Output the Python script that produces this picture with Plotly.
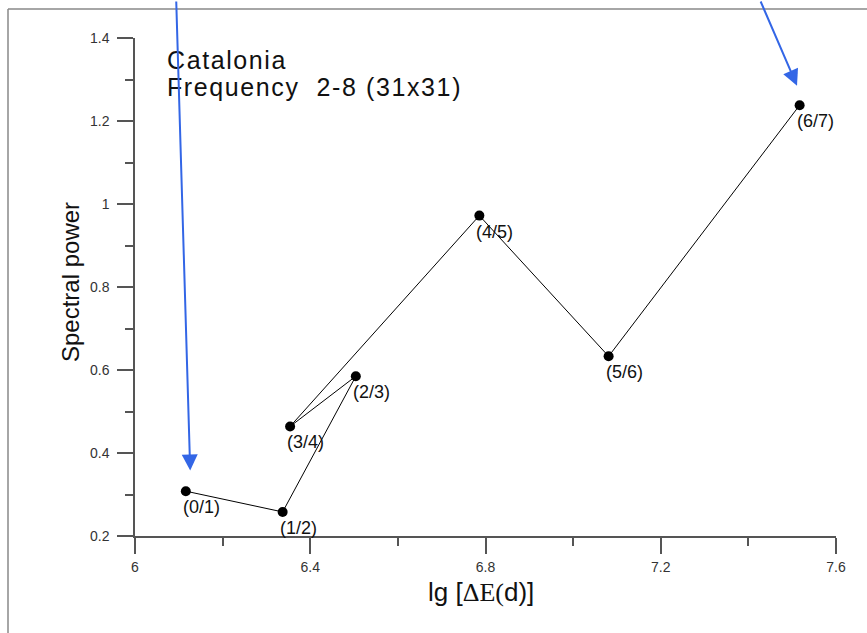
import plotly.graph_objects as go

# Spectral power versus lg[ΔE(d)] for successive magnitude bins
lg_de = [6.116, 6.337, 6.504, 6.354, 6.786, 7.081, 7.517]
power = [0.308, 0.258, 0.585, 0.464, 0.972, 0.633, 1.238]
labels = ["(0/1)", "(1/2)", "(2/3)", "(3/4)", "(4/5)", "(5/6)", "(6/7)"]

x_ticks = [6, 6.4, 6.8, 7.2, 7.6]
y_ticks = [0.2, 0.4, 0.6, 0.8, 1, 1.2, 1.4]

title_lines = ["Catalonia", "Frequency  2-8 (31x31)"]

W, H = 867, 633
ML, MR, MT, MB = 135, 31, 38, 97
pw, ph = W - ML - MR, H - MT - MB
SANS = "Liberation Sans, Arial"


def px_x(p):
    return (p - ML) / pw


def px_y(p):
    return (H - MB - p) / ph


fig = go.Figure()
fig.add_trace(go.Scatter(
    x=lg_de, y=power, mode="lines+markers",
    line=dict(color="black", width=1),
    marker=dict(color="black", size=10),
    hoverinfo="skip", showlegend=False,
))

annotations = []
for xv, yv, lab in zip(lg_de, power, labels):
    annotations.append(dict(
        x=xv, y=yv, text=lab, showarrow=False,
        xanchor="left", yanchor="top", xshift=-5, yshift=-4,
        font=dict(family=SANS, size=18, color="#111"),
    ))

for line, top in zip(title_lines, [44, 71]):
    annotations.append(dict(
        xref="paper", yref="paper", x=px_x(165), y=px_y(top),
        text='<span style="letter-spacing:1.6px">%s</span>' % line,
        showarrow=False, xanchor="left", yanchor="top", align="left",
        font=dict(family=SANS, size=25, color="#111"),
    ))

# blue pointer arrows
annotations.append(dict(
    x=6.126, y=0.358, ax=-14, ay=-480, showarrow=True,
    arrowhead=2, arrowsize=1.6, arrowwidth=2, arrowcolor="#3366e6", text="",
))
annotations.append(dict(
    x=7.511, y=1.285, ax=-37, ay=-92, showarrow=True,
    arrowhead=2, arrowsize=1.6, arrowwidth=2, arrowcolor="#3366e6", text="",
))

annotations.append(dict(
    xref="paper", yref="paper", x=px_x(70), y=px_y(282),
    text="Spectral power", textangle=-90, showarrow=False,
    xanchor="center", yanchor="middle",
    font=dict(family=SANS, size=24, color="#111"),
))
annotations.append(dict(
    xref="paper", yref="paper", x=px_x(481), y=px_y(592),
    text='lg [<span style="font-family:Liberation Serif, Times New Roman">ΔE(</span>d)]',
    showarrow=False, xanchor="center", yanchor="middle",
    font=dict(family=SANS, size=26, color="#111"),
))

axis_common = dict(
    showline=True, linecolor="#555", linewidth=1.5,
    ticks="outside", ticklen=16, tickwidth=1.5, tickcolor="#555",
    showgrid=False, zeroline=False, mirror=False,
    tickfont=dict(family=SANS, size=14, color="#333"),
)

fig.update_layout(
    width=W, height=H,
    margin=dict(l=ML, r=MR, t=MT, b=MB),
    paper_bgcolor="white", plot_bgcolor="white",
    xaxis=dict(range=[6, 7.6], tickvals=x_ticks, ticktext=[str(v) for v in x_ticks],
               ticklabelstandoff=1,
               minor=dict(ticks="outside", ticklen=8, tickwidth=1.5, tickcolor="#555", dtick=0.2, tick0=6),
               **axis_common),
    yaxis=dict(range=[0.2, 1.4], tickvals=y_ticks, ticktext=[str(v) for v in y_ticks],
               ticklabelstandoff=5,
               minor=dict(ticks="outside", ticklen=8, tickwidth=1.5, tickcolor="#555", dtick=0.1, tick0=0.2),
               **axis_common),
    annotations=annotations,
    shapes=[
        dict(type="line", xref="paper", yref="paper", x0=px_x(8), x1=px_x(W + 5),
             y0=px_y(9), y1=px_y(9), line=dict(color="#888", width=1.5)),
        dict(type="line", xref="paper", yref="paper", x0=px_x(8), x1=px_x(8),
             y0=px_y(9), y1=px_y(H + 5), line=dict(color="#888", width=1.5)),
    ],
)

fig.write_html("out.html")
